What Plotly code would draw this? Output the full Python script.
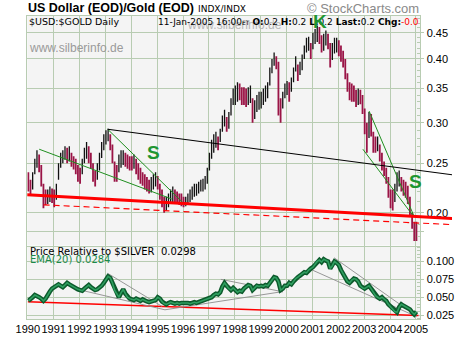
import math
import plotly.graph_objects as go

W, H = 460, 340

# ---------------- data ----------------
years = list(range(1990, 2006))

# monthly high / low of $USD:$GOLD, Jan 1990 .. Jan 2005
usd_gold_hi = [
    0.240, 0.232, 0.240, 0.255, 0.265, 0.260, 0.248, 0.228, 0.222, 0.222, 0.225, 0.223,  # 1990
    0.222, 0.228, 0.250, 0.262, 0.265, 0.270, 0.268, 0.270, 0.262, 0.258, 0.255, 0.248,  # 1991
    0.245, 0.255, 0.268, 0.275, 0.270, 0.262, 0.250, 0.242, 0.250, 0.262, 0.275, 0.285,  # 1992
    0.290, 0.292, 0.285, 0.272, 0.252, 0.248, 0.260, 0.265, 0.265, 0.262, 0.260, 0.258,  # 1993
    0.258, 0.260, 0.255, 0.250, 0.245, 0.240, 0.238, 0.235, 0.232, 0.235, 0.238, 0.240,  # 1994
    0.236, 0.228, 0.222, 0.215, 0.215, 0.218, 0.222, 0.225, 0.222, 0.220, 0.218, 0.218,  # 1995
    0.215, 0.215, 0.218, 0.222, 0.225, 0.228, 0.228, 0.230, 0.232, 0.233, 0.236, 0.245,  # 1996
    0.262, 0.278, 0.285, 0.288, 0.282, 0.292, 0.310, 0.318, 0.308, 0.315, 0.335, 0.350,  # 1997
    0.355, 0.360, 0.358, 0.352, 0.352, 0.350, 0.352, 0.355, 0.335, 0.332, 0.340, 0.345,  # 1998
    0.345, 0.350, 0.355, 0.360, 0.385, 0.400, 0.412, 0.405, 0.395, 0.335, 0.345, 0.358,  # 1999
    0.362, 0.360, 0.368, 0.385, 0.405, 0.390, 0.395, 0.408, 0.425, 0.440, 0.442, 0.430,  # 2000
    0.450, 0.458, 0.465, 0.462, 0.445, 0.448, 0.455, 0.448, 0.430, 0.430, 0.440, 0.440,  # 2001
    0.435, 0.425, 0.415, 0.400, 0.375, 0.360, 0.358, 0.355, 0.348, 0.350, 0.348, 0.340,  # 2002
    0.320, 0.300, 0.315, 0.312, 0.288, 0.282, 0.282, 0.272, 0.262, 0.252, 0.245, 0.235,  # 2003
    0.222, 0.222, 0.228, 0.240, 0.242, 0.235, 0.232, 0.230, 0.226, 0.215, 0.200, 0.192,  # 2004
    0.192,                                                                                # 2005
]
usd_gold_lo = [
    0.220, 0.216, 0.222, 0.238, 0.245, 0.240, 0.225, 0.204, 0.207, 0.208, 0.210, 0.209,
    0.205, 0.212, 0.232, 0.245, 0.250, 0.254, 0.250, 0.252, 0.246, 0.243, 0.238, 0.230,
    0.228, 0.238, 0.250, 0.255, 0.250, 0.244, 0.230, 0.225, 0.232, 0.242, 0.256, 0.265,
    0.272, 0.276, 0.265, 0.250, 0.230, 0.230, 0.240, 0.245, 0.248, 0.246, 0.244, 0.242,
    0.242, 0.244, 0.238, 0.232, 0.228, 0.226, 0.222, 0.220, 0.218, 0.219, 0.222, 0.225,
    0.222, 0.212, 0.205, 0.200, 0.202, 0.205, 0.208, 0.210, 0.210, 0.208, 0.207, 0.206,
    0.205, 0.206, 0.208, 0.210, 0.212, 0.215, 0.216, 0.218, 0.220, 0.220, 0.222, 0.228,
    0.242, 0.255, 0.262, 0.268, 0.265, 0.275, 0.288, 0.295, 0.288, 0.292, 0.310, 0.325,
    0.325, 0.330, 0.332, 0.325, 0.325, 0.322, 0.325, 0.328, 0.300, 0.305, 0.315, 0.318,
    0.320, 0.325, 0.330, 0.335, 0.355, 0.375, 0.388, 0.382, 0.310, 0.300, 0.320, 0.335,
    0.340, 0.330, 0.345, 0.360, 0.378, 0.362, 0.372, 0.380, 0.400, 0.412, 0.415, 0.400,
    0.418, 0.428, 0.432, 0.428, 0.412, 0.415, 0.425, 0.418, 0.385, 0.398, 0.410, 0.412,
    0.405, 0.395, 0.385, 0.365, 0.345, 0.332, 0.330, 0.330, 0.322, 0.325, 0.326, 0.312,
    0.285, 0.262, 0.280, 0.282, 0.262, 0.262, 0.264, 0.252, 0.242, 0.236, 0.228, 0.214,
    0.204, 0.202, 0.210, 0.220, 0.225, 0.220, 0.216, 0.214, 0.208, 0.198, 0.186, 0.176,
    0.176,
]
# price relative to $SILVER, monthly
rel_silver = [
    0.045, 0.047, 0.050, 0.053, 0.052, 0.050, 0.048, 0.045, 0.048, 0.054, 0.058, 0.062,
    0.064, 0.066, 0.068, 0.066, 0.064, 0.067, 0.070, 0.068, 0.066, 0.064, 0.062, 0.061,
    0.060, 0.059, 0.062, 0.065, 0.067, 0.064, 0.062, 0.060, 0.061, 0.063, 0.066, 0.070,
    0.075, 0.079, 0.077, 0.070, 0.060, 0.055, 0.050, 0.056, 0.061, 0.055, 0.050, 0.048,
    0.047, 0.046, 0.048, 0.046, 0.045, 0.047, 0.045, 0.044, 0.043, 0.044, 0.045, 0.046,
    0.050, 0.048, 0.044, 0.041, 0.040, 0.042, 0.043, 0.042, 0.041, 0.042, 0.041, 0.042,
    0.042, 0.043, 0.042, 0.041, 0.042, 0.043, 0.042, 0.043, 0.044, 0.045, 0.046, 0.047,
    0.048, 0.050, 0.053, 0.055, 0.054, 0.057, 0.065, 0.070, 0.066, 0.062, 0.060, 0.063,
    0.060, 0.057, 0.059, 0.058, 0.062, 0.064, 0.067, 0.066, 0.060, 0.063, 0.066, 0.065,
    0.066, 0.065, 0.067, 0.066, 0.070, 0.075, 0.078, 0.077, 0.072, 0.060, 0.062, 0.066,
    0.066, 0.070, 0.068, 0.072, 0.076, 0.078, 0.080, 0.083, 0.085, 0.084, 0.088, 0.090,
    0.092, 0.096, 0.100, 0.102, 0.099, 0.103, 0.101, 0.100, 0.090, 0.094, 0.100, 0.098,
    0.095, 0.088, 0.082, 0.076, 0.072, 0.070, 0.074, 0.076, 0.075, 0.072, 0.066, 0.063,
    0.062, 0.064, 0.066, 0.062, 0.057, 0.052, 0.050, 0.048, 0.050, 0.047, 0.045, 0.040,
    0.037, 0.033, 0.030, 0.029, 0.036, 0.040, 0.038, 0.036, 0.035, 0.033, 0.029, 0.026,
    0.0298,
]

# trend lines: (x0, y0, x1, y1) in (year, value)
main_red_thick = [(1989.98, 0.2168, 2006.45, 0.1947)]
main_red_dash = [(1990.61, 0.2073, 2006.45, 0.1895)]
main_black = [(1993.09, 0.2913, 2006.45, 0.2371)]
main_green = [
    (1990.44, 0.2663, 1995.56, 0.2128),
    (1993.09, 0.2913, 1996.11, 0.2066),
    (2003.19, 0.3163, 2004.92, 0.1973),
    (2002.95, 0.2663, 2004.92, 0.1964),
]
rel_red = [(1990.0, 0.0435, 2005.1, 0.0245)]
rel_grey = [
    (1993.09, 0.0833, 1995.19, 0.0371),
    (1991.86, 0.0615, 1995.30, 0.0324),
    (1995.30, 0.0324, 1999.86, 0.0579),
    (1997.46, 0.0750, 1999.86, 0.0575),
    (2001.84, 0.1051, 2005.04, 0.0232),
    (2000.85, 0.0903, 2004.92, 0.0246),
]

main_ticks = [0.20, 0.25, 0.30, 0.35, 0.40, 0.45]
rel_ticks = [0.025, 0.050, 0.075, 0.100]

# ---------------- layout geometry (pixels) ----------------
PL, PR = 16, 427
MT, MB = 16, 247
LT, LB = 248, 321


def pxx(x):
    return x / W


def pyy(y):
    return 1 - y / H


XR = [1989.98, 2005.175]
YR_MAIN = [math.log10(0.1725), math.log10(0.4857)]
YR_REL = [0.0194, 0.1208]

dom_x = [pxx(PL), pxx(PR)]
span = XR[1] - XR[0]
XR_FULL = [XR[0] - span * dom_x[0] / (dom_x[1] - dom_x[0]),
           XR[1] + span * (1 - dom_x[1]) / (dom_x[1] - dom_x[0])]

GRID = "#b8ccb2"
BG = "#f4f4f4"
CRIMSON = "#9a1446"
GREEN = "#1e9632"

n = len(usd_gold_hi)
t = [1990 + m / 12 + 0.02 for m in range(n)]

fig = go.Figure()

# price bars: up-months black, down-months crimson
bx_r, by_r, bx_k, by_k = [], [], [], []
prev = None
for i in range(n):
    mid = (usd_gold_hi[i] + usd_gold_lo[i]) / 2
    up = prev is not None and mid > prev
    prev = mid
    if up:
        bx_k += [t[i], t[i], None]
        by_k += [usd_gold_lo[i], usd_gold_hi[i], None]
    else:
        bx_r += [t[i], t[i], None]
        by_r += [usd_gold_lo[i], usd_gold_hi[i], None]

fig.add_trace(go.Scatter(x=bx_r, y=by_r, mode="lines", line=dict(color=CRIMSON, width=1.8),
                         xaxis="x", yaxis="y", hoverinfo="skip", showlegend=False))
fig.add_trace(go.Scatter(x=bx_k, y=by_k, mode="lines", line=dict(color="#111111", width=1.3),
                         xaxis="x", yaxis="y", hoverinfo="skip", showlegend=False))


def seg_trace(segs, color, width, axes, dash="solid"):
    xs, ys = [], []
    for x0, y0, x1, y1 in segs:
        xs += [x0, x1, None]
        ys += [y0, y1, None]
    return go.Scatter(x=xs, y=ys, mode="lines", line=dict(color=color, width=width, dash=dash),
                      xaxis=axes[0], yaxis=axes[1], hoverinfo="skip", showlegend=False)


# main-panel trend lines (on full-width overlay axes so they run past the plot edge)
fig.add_trace(seg_trace(main_green, "#1f8f1f", 1, ("x3", "y3")))
fig.add_trace(seg_trace(main_black, "#000000", 1.1, ("x3", "y3")))
fig.add_trace(seg_trace(main_red_dash, "#ff0000", 1.2, ("x3", "y3"), dash="6px,4px"))
fig.add_trace(seg_trace(main_red_thick, "#ff0000", 3, ("x3", "y3")))

# lower panel
fig.add_trace(seg_trace(rel_red, "#ff0000", 1.5, ("x2", "y2")))
fig.add_trace(seg_trace(rel_grey, "#8c8c8c", 0.9, ("x2", "y2")))
fig.add_trace(go.Scatter(x=t, y=rel_silver, mode="lines", line=dict(color="#0c5a2c", width=4.5),
                         xaxis="x2", yaxis="y2", hoverinfo="skip", showlegend=False))
fig.add_trace(go.Scatter(x=t, y=rel_silver, mode="lines", line=dict(color="#2f9f60", width=1.6),
                         xaxis="x2", yaxis="y2", hoverinfo="skip", showlegend=False))

FONT_AX = dict(family="Liberation Sans, Arial, sans-serif", size=11, color="#000")

main_minor = [round(0.17 + 0.01 * k, 2) for k in range(32)]
main_minor = [v for v in main_minor if v not in main_ticks]
rel_minor = [round(0.020 + 0.005 * k, 3) for k in range(21)]
rel_minor = [v for v in rel_minor if v not in rel_ticks]

common_x = dict(range=XR, domain=dom_x, tickmode="array", tickvals=years,
                showgrid=True, gridcolor=GRID, gridwidth=1, zeroline=False,
                showline=True, linecolor=GRID, linewidth=1, mirror=True, ticks="")

fig.update_layout(
    width=W, height=H, margin=dict(l=0, r=0, t=0, b=0),
    paper_bgcolor="white", plot_bgcolor="rgba(0,0,0,0)",
    showlegend=False,
    xaxis=dict(**common_x, anchor="y", showticklabels=False),
    xaxis2=dict(**common_x, anchor="y2", showticklabels=True, tickangle=0,
                ticktext=[str(y) for y in years], tickfont=FONT_AX),
    yaxis=dict(type="log", range=YR_MAIN, domain=[pyy(MB), pyy(MT)], anchor="x", side="right",
               tickmode="array", tickvals=main_ticks + [0.184],
               ticktext=["0.20", "0.25", "0.30", "0.35", "0.40", "0.45", ""],
               tickfont=FONT_AX, ticks="outside", ticklen=3, tickcolor=GRID,
               showgrid=True, gridcolor=GRID, zeroline=False,
               showline=True, linecolor=GRID, mirror=True,
               minor=dict(tickmode="array", tickvals=main_minor, ticks="inside", ticklen=3,
                          tickcolor=GRID, showgrid=False)),
    yaxis2=dict(range=YR_REL, domain=[pyy(LB), pyy(LT)], anchor="x2", side="right",
                tickmode="array", tickvals=rel_ticks,
                ticktext=["0.025", "0.050", "0.075", "0.100"],
                tickfont=FONT_AX, ticks="outside", ticklen=3, tickcolor=GRID,
                showgrid=True, gridcolor=GRID, zeroline=False,
                showline=True, linecolor=GRID, mirror=True,
                minor=dict(tickmode="array", tickvals=rel_minor, ticks="inside", ticklen=3,
                           tickcolor=GRID, showgrid=False)),
    xaxis3=dict(range=XR_FULL, domain=[0, 1], anchor="y3", visible=False, fixedrange=True),
    yaxis3=dict(type="log", range=YR_MAIN, domain=[pyy(MB), pyy(MT)], anchor="x3",
                visible=False, fixedrange=True),
)

# panel backgrounds
for xr, yr in (("x domain", "y domain"), ("x2 domain", "y2 domain")):
    fig.add_shape(type="rect", xref=xr, yref=yr, x0=0, x1=1, y0=0, y1=1,
                  fillcolor=BG, line=dict(width=0), layer="below")


def ann(x, y, text, size=10, color="#000", family="DejaVu Sans, Verdana, sans-serif",
        xanchor="left", opacity=1.0):
    fig.add_annotation(x=pxx(x), y=pyy(y), xref="paper", yref="paper", text=text,
                       showarrow=False, xanchor=xanchor, yanchor="middle",
                       font=dict(size=size, color=color, family=family), opacity=opacity,
                       borderpad=0)


ARIAL = "Liberation Sans, Arial, sans-serif"
ann(16, 8.5, "<b>US Dollar (EOD)/Gold (EOD)</b>", size=12.5, family=ARIAL)
ann(193, 9, "INDX/INDX", size=9)
ann(427, 9, "© StockCharts.com", size=13, color="#8a8a8a", family=ARIAL, xanchor="right")
ann(182, 25, "www.silberinfo.de", size=12, color="#b8b8b8", family=ARIAL)
ann(17, 22, "$USD:$GOLD Daily", size=9.5)
ann(427, 22, "11-Jan-2005 16:00<span style='font-size:6px'>ET</span> <b>O:</b>0.2 <b>H:</b>0.2 "
             "<b>L:</b>0.2 <b>Last:</b>0.2 <b>Chg:</b><span style='color:#ff0000'>-0.0</span>",
    size=9, xanchor="right")
ann(17, 48, "www.silberinfo.de", size=12, color="#9a9a9a", family=ARIAL)
ann(321.7, 21.5, "<b>K</b>", size=19, color=GREEN, family=ARIAL, xanchor="center")
ann(148.3, 153.5, "<b>S</b>", size=19, color=GREEN, family=ARIAL, xanchor="center")
ann(421.7, 183, "<b>S</b>", size=19, color=GREEN, family=ARIAL, xanchor="center")
ann(18, 252.5, "Price Relative to $SILVER  0.0298", size=10)
ann(18, 261, "EMA(20) 0.0284", size=10, color="#1b8a4a")

fig.write_html("out.html")
